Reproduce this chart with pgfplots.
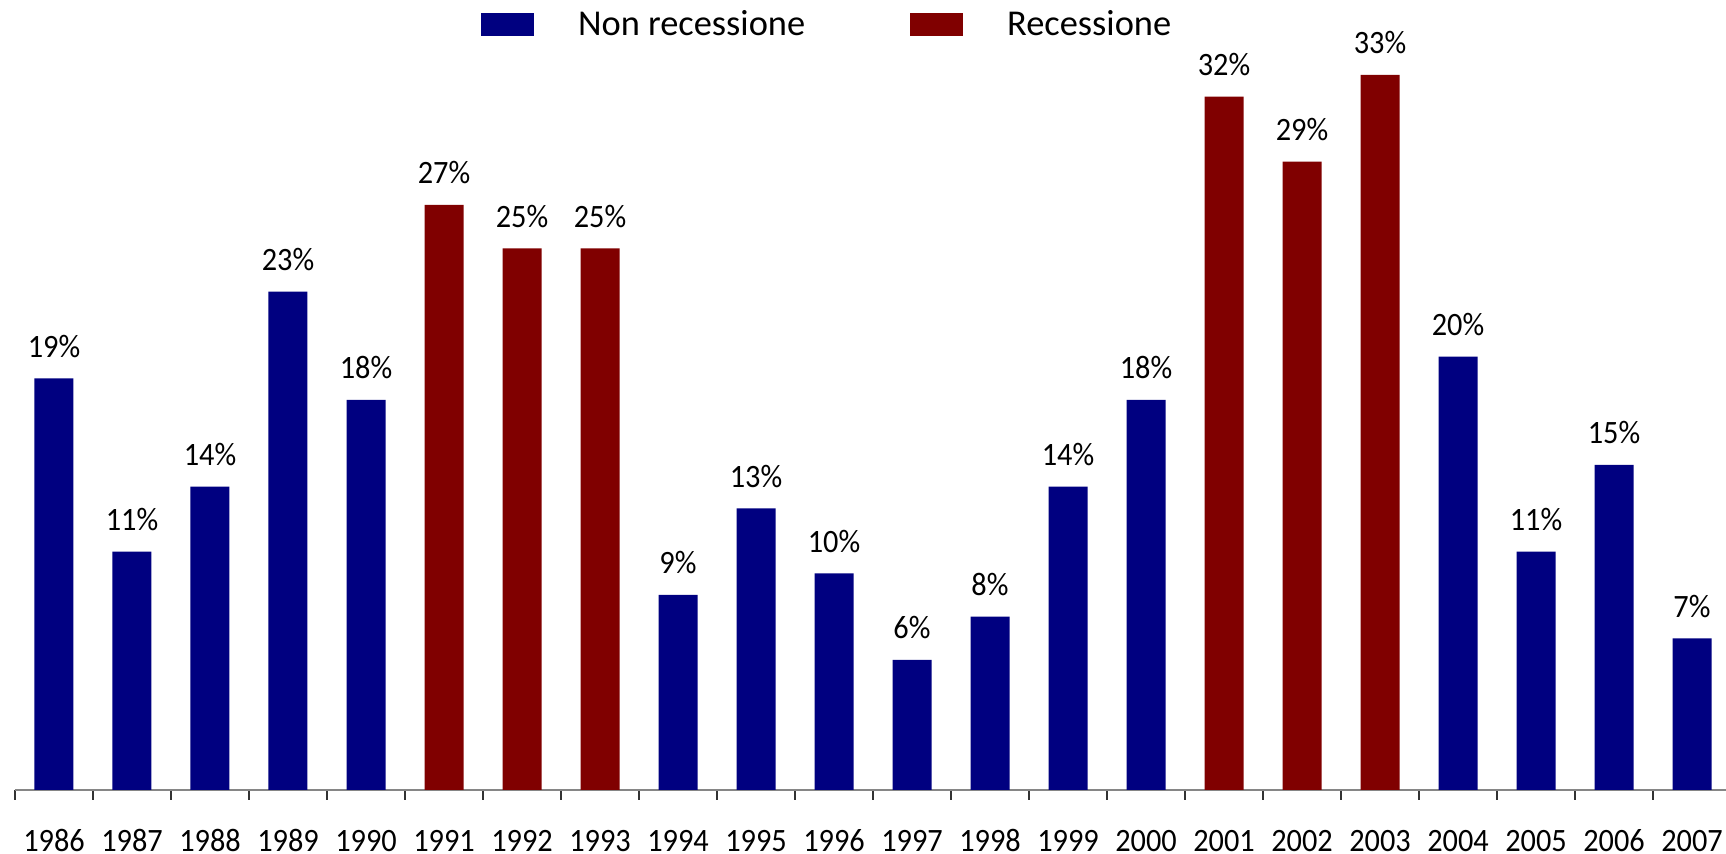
\documentclass[border=0pt]{standalone}
\usepackage{fontspec}
\setmainfont{Carlito}[FakeStretch=0.93]
\newfontfamily\legfont{Carlito}
\usepackage{pgfplots}
\pgfplotsset{compat=1.18}
\definecolor{navybar}{RGB}{0,0,128}
\definecolor{redbar}{RGB}{128,0,0}
\definecolor{axisgray}{RGB}{134,134,134}
\begin{document}
\begin{tikzpicture}[font=\fontsize{16.3}{19.6}\selectfont]
\begin{axis}[
  x=39pt, y=10.833pt,
  xmin=-0.5, xmax=21.5, ymin=0, ymax=36.46,
  clip=false,
  hide y axis,
  axis x line*=bottom,
  x axis line style={draw=axisgray, line width=0.8pt},
  xtick={0,...,21},
  xticklabels={1986,1987,1988,1989,1990,1991,1992,1993,1994,1995,1996,1997,1998,1999,2000,2001,2002,2003,2004,2005,2006,2007},
  major tick length=0pt,
  minor xtick={-0.5,0.5,...,21.5},
  minor tick length=5pt,
  tick align=outside,
  minor tick style={draw=black!80, line width=0.6pt},
  xticklabel style={anchor=base, inner sep=0pt, yshift=-31pt},
  /pgf/number format/assume math mode=true,
  nodes near coords={\pgfmathprintnumber{\pgfplotspointmeta}\%},
  nodes near coords style={anchor=base, inner sep=0pt, yshift=10.5pt, text=black},
  legend columns=2,
  legend style={draw=none, fill=none, inner sep=0pt, outer sep=0pt,
    at={(0.2716,0.9691)}, anchor=west,
    font=\legfont\fontsize{18.2}{22}\selectfont,
    nodes={inner sep=0pt, anchor=base west},
    /tikz/every odd column/.append style={column sep=22pt},
    /tikz/every even column/.append style={column sep=52.5pt}},
  legend image code/.code={\fill[#1] (0pt,-0.4pt) rectangle (26.5pt,11.1pt);},
]
\addplot[ybar, bar width=0.5, bar shift=0pt, fill=navybar, draw=none] coordinates {
(0,19) (1,11) (2,14) (3,23) (4,18) (8,9) (9,13) (10,10) (11,6) (12,8) (13,14) (14,18) (18,20) (19,11) (20,15) (21,7)};
\addlegendentry{Non recessione}
\addplot[ybar, bar width=0.5, bar shift=0pt, fill=redbar, draw=none] coordinates {
(5,27) (6,25) (7,25) (15,32) (16,29) (17,33)};
\addlegendentry{Recessione}
\coordinate (BL) at (axis cs:-0.6923,-2.954);
\coordinate (TR) at (axis cs:21.436,36.46);
\end{axis}
\pgfresetboundingbox
\useasboundingbox (BL) rectangle (TR);
\end{tikzpicture}
\end{document}
